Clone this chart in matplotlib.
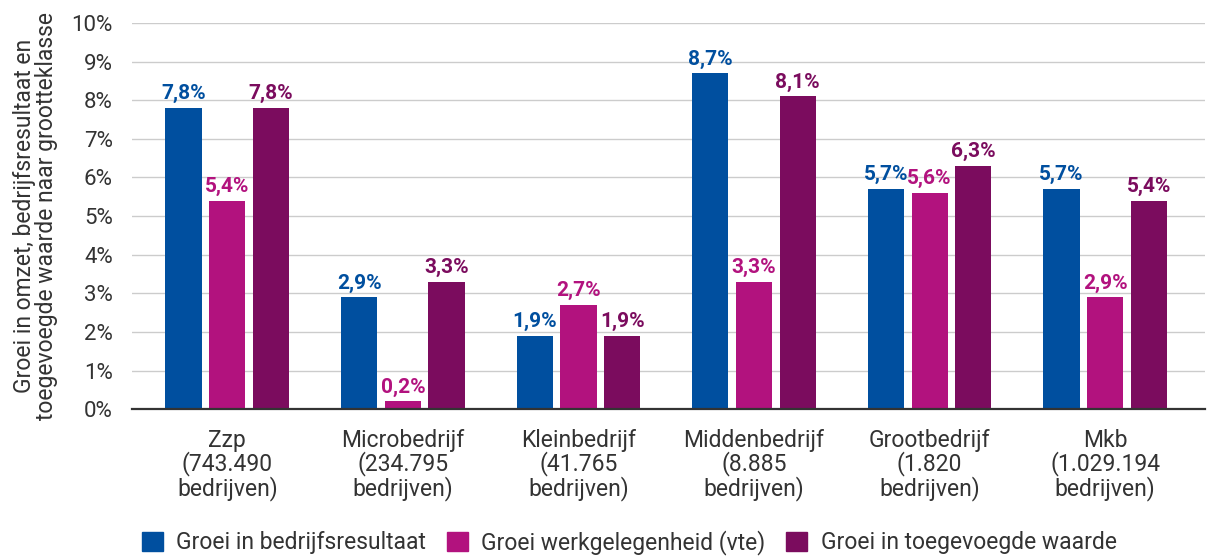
import matplotlib
matplotlib.use("Agg")
import matplotlib.pyplot as plt
import numpy as np
from matplotlib.patches import Patch

categories = ["Zzp\n(743.490\nbedrijven)", "Microbedrijf\n(234.795\nbedrijven)",
              "Kleinbedrijf\n(41.765\nbedrijven)", "Middenbedrijf\n(8.885\nbedrijven)",
              "Grootbedrijf\n(1.820\nbedrijven)", "Mkb\n(1.029.194\nbedrijven)"]
series_names = ["Groei in bedrijfsresultaat", "Groei werkgelegenheid (vte)", "Groei in toegevoegde waarde"]
resultaat = [7.8, 2.9, 1.9, 8.7, 5.7, 5.7]
werkgelegenheid = [5.4, 0.2, 2.7, 3.3, 5.6, 2.9]
toegevoegd = [7.8, 3.3, 1.9, 8.1, 6.3, 5.4]
yticks = [0, 1, 2, 3, 4, 5, 6, 7, 8, 9, 10]

colors = ["#004F9F", "#B2127E", "#7B0C5E"]
plt.rcParams['font.family'] = ['Roboto', 'DejaVu Sans']

fig = plt.figure(figsize=(12.15, 5.56), dpi=100)
ax = fig.add_axes([0.109, 0.264, 0.883, 0.6946])

x = np.arange(len(categories))
w = 0.206
off = 0.249
for i, (vals, c) in enumerate(zip([resultaat, werkgelegenheid, toegevoegd], colors)):
    pos = x + (i - 1) * off
    bars = ax.bar(pos, vals, width=w, color=c, zorder=3)
    for b, v in zip(bars, vals):
        ax.text(b.get_x() + b.get_width() / 2, v + 0.12, f"{v:.1f}%".replace(".", ","),
                ha="center", va="bottom", color=c, fontsize=15, fontweight="bold")

ax.set_ylim(0, 10)
ax.set_xlim(-0.54, 5.57)
ax.set_yticks(yticks)
ax.set_yticklabels([f"{t}%" for t in yticks], fontsize=16, color="#333333")
ax.set_xticks(x)
ax.set_xticklabels(categories, fontsize=16.5, color="#333333", linespacing=0.98)
ax.tick_params(axis="y", length=0, pad=14)
ax.tick_params(axis="x", length=0, pad=14)
ax.yaxis.grid(True, color="#cccccc", linewidth=1, zorder=0)
for s in ["top", "right", "left"]:
    ax.spines[s].set_visible(False)
ax.spines["bottom"].set_color("#333333")
ax.spines["bottom"].set_linewidth(1.6)
ax.spines["bottom"].set_zorder(4)

ax.set_ylabel("Groei in omzet, bedrijfsresultaat en\ntoegevoegde waarde naar grootteklasse",
              fontsize=16.5, color="#333333", linespacing=0.95, labelpad=10)

handles = [Patch(color=c) for c in colors]
fig.legend(handles, series_names, loc="lower center", bbox_to_anchor=(0.518, -0.035), ncol=3,
           frameon=False, fontsize=16.5, handlelength=0.9, handleheight=0.9,
           columnspacing=0.9, handletextpad=0.6, labelcolor="#333333")

fig.savefig("out.png", dpi=100)
